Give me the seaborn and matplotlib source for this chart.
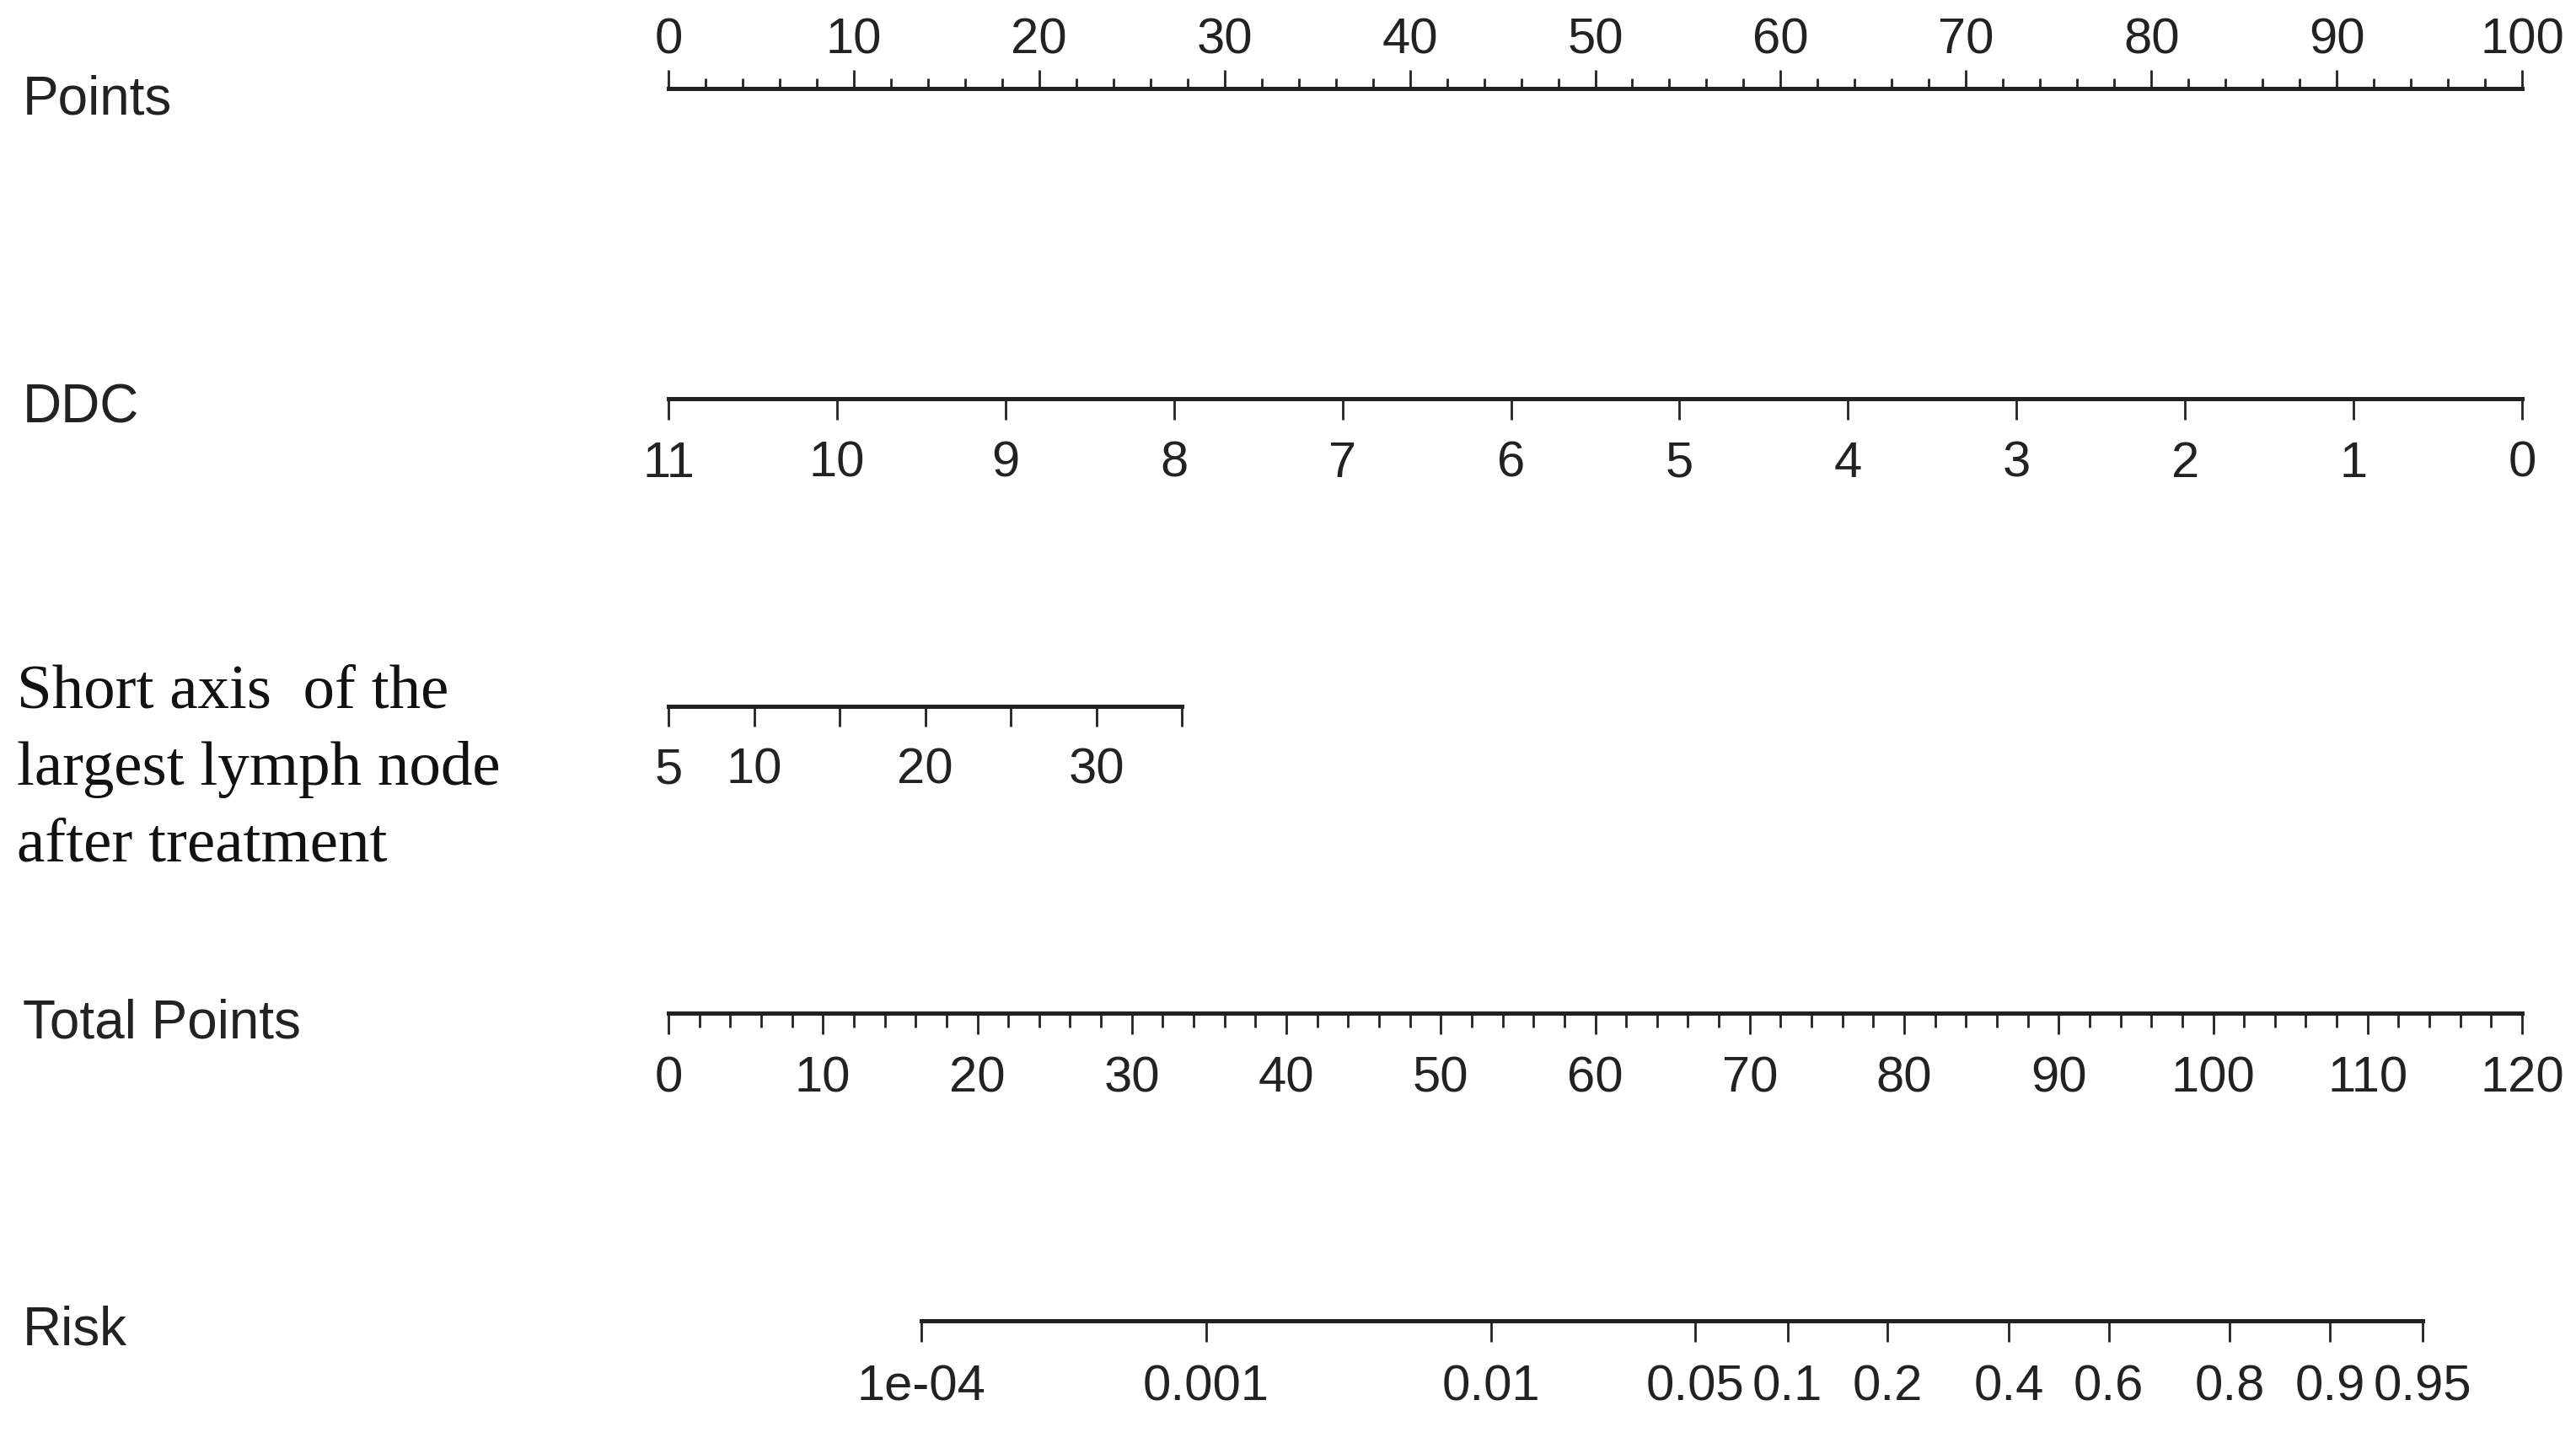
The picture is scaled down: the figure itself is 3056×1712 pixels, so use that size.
import numpy as np
import matplotlib
matplotlib.use("Agg")
import matplotlib.pyplot as plt
from matplotlib.ticker import MultipleLocator
import seaborn as sns

# nomogram scales
points_ticks = list(range(0, 101, 10))
ddc_values = [11, 10, 9, 8, 7, 6, 5, 4, 3, 2, 1, 0]
short_axis_ticks = [5, 10, 15, 20, 25, 30, 35]
short_axis_labels = ['5', '10', '', '20', '', '30', '']
short_axis_points_at_max = 27.7   # points given for 35 mm
total_points_ticks = list(range(0, 121, 10))
risk_values = [1e-4, 0.001, 0.01, 0.05, 0.1, 0.2, 0.4, 0.6, 0.8, 0.9, 0.95]
risk_labels = ['1e-04', '0.001', '0.01', '0.05', '0.1', '0.2', '0.4', '0.6', '0.8', '0.9', '0.95']
risk_intercept = -11.26
risk_slope = 0.1251   # logit per total point

sns.set_style("white")
plt.rcParams['font.family'] = ['Liberation Sans', 'DejaVu Sans']

W, H = 3056, 1712
fig = plt.figure(figsize=(W / 200, H / 200), dpi=200)

x0 = 793 / W
x1 = 2992 / W
tick_fs = 21.5
label_fs = 23


def make_axis(y_px, top=False):
    y = 1 - y_px / H
    h = 0.001
    ax = fig.add_axes([x0, y - h if top else y, x1 - x0, h])
    ax.patch.set_alpha(0)
    ax.yaxis.set_visible(False)
    for s in ['left', 'right', 'top', 'bottom']:
        ax.spines[s].set_visible(False)
    side = 'top' if top else 'bottom'
    ax.spines[side].set_visible(True)
    ax.spines[side].set_linewidth(1.8)
    ax.spines[side].set_color('#222222')
    if top:
        ax.xaxis.tick_top()
        ax.tick_params(axis='x', which='both', top=True, bottom=False)
    else:
        ax.tick_params(axis='x', which='both', top=False, bottom=True)
    ax.tick_params(axis='x', which='both', direction='out', color='#222222',
                   labelsize=tick_fs, labelcolor='#222222', width=1.0)
    return ax, side


def logit(p):
    return np.log(p / (1 - p))


# Points
ax, side = make_axis(105, top=True)
ax.set_xlim(0, 100)
ax.set_xticks(points_ticks)
ax.xaxis.set_minor_locator(MultipleLocator(2))
ax.tick_params(which='major', length=8, pad=2.5)
ax.tick_params(which='minor', length=4.5)
fig.text(27 / W, 1 - 118 / H, "Points", fontsize=label_fs, va='center', color='#222222')

# DDC
ax, side = make_axis(473)
ax.set_xlim(0, 100)
ddc_pts = [(11 - v) / 11 * 100 for v in ddc_values]
ax.set_xticks(ddc_pts)
ax.set_xticklabels([str(v) for v in ddc_values])
ax.tick_params(which='major', length=9, pad=9)
fig.text(27 / W, 1 - 484 / H, "DDC", fontsize=label_fs, va='center', color='#222222')

# Short axis of largest lymph node
ax, side = make_axis(838)
ax.set_xlim(0, 100)
sa_pts = [(v - short_axis_ticks[0]) / (short_axis_ticks[-1] - short_axis_ticks[0]) * short_axis_points_at_max
          for v in short_axis_ticks]
ax.spines[side].set_bounds(sa_pts[0], sa_pts[-1])
ax.set_xticks(sa_pts)
ax.set_xticklabels(short_axis_labels)
ax.tick_params(which='major', length=8.5, pad=9)
fig.text(20 / W, 1 - 913 / H, "Short axis  of the\nlargest lymph node\nafter treatment",
         fontsize=27, va='center', family=['Liberation Serif', 'DejaVu Serif'],
         linespacing=1.45, color='#111111')

# Total points
ax, side = make_axis(1202)
ax.set_xlim(0, 120)
ax.set_xticks(total_points_ticks)
ax.xaxis.set_minor_locator(MultipleLocator(2))
ax.tick_params(which='major', length=9, pad=9)
ax.tick_params(which='minor', length=6)
fig.text(27 / W, 1 - 1214 / H, "Total Points", fontsize=label_fs, va='center', color='#222222')

# Risk
ax, side = make_axis(1567)
ax.set_xlim(0, 120)
risk_pts = [(logit(p) - risk_intercept) / risk_slope for p in risk_values]
ax.spines[side].set_bounds(risk_pts[0], risk_pts[-1])
ax.set_xticks(risk_pts)
ax.set_xticklabels(risk_labels)
ax.tick_params(which='major', length=9, pad=9.5)
fig.text(27 / W, 1 - 1579 / H, "Risk", fontsize=label_fs, va='center', color='#222222')

fig.savefig("out.png", dpi=200, facecolor='white')
